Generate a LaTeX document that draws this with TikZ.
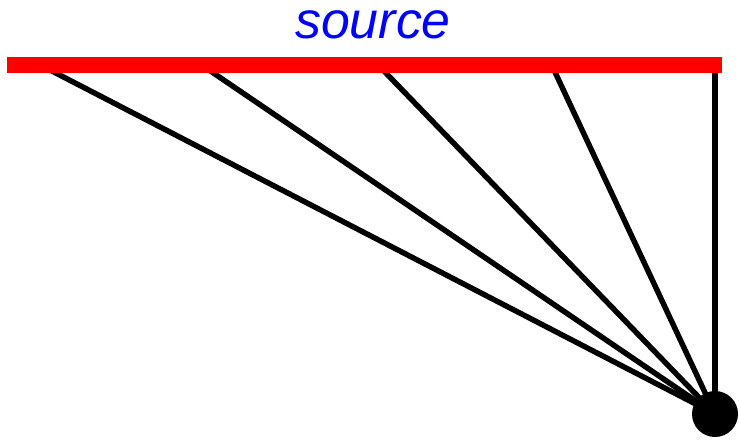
\documentclass[tikz,border=0pt]{standalone}
\usepackage{fontspec}
\setmainfont{Liberation Sans}
\begin{document}
\begin{tikzpicture}[x=0.02cm, y=-0.02cm,
    ray/.style={black, line width=3.1pt},
    sourcebar/.style={red, line width=9.2pt},
    sink/.style={circle, fill=black, inner sep=0pt, minimum size=0.92cm}]
    \useasboundingbox (0,0) rectangle (740,440);

    % Receiver point
    \node[sink] (dot) at (715,414) {};

    % Rays from the source to the point
    \foreach \x/\name in {50/a, 209/b, 383/c, 554/d, 715/e}{
        \coordinate (\name) at (\x,70);
        \draw[ray] (\name) -- (dot.center);
    }

    % Source line (on top of the rays)
    \coordinate (left) at (7,65);
    \coordinate (right) at (722,65);
    \draw[sourcebar] (left) -- (right);
    \node[blue, font=\fontsize{29.5}{32}\selectfont\itshape] (label) at (373,25) {source};
\end{tikzpicture}
\end{document}
